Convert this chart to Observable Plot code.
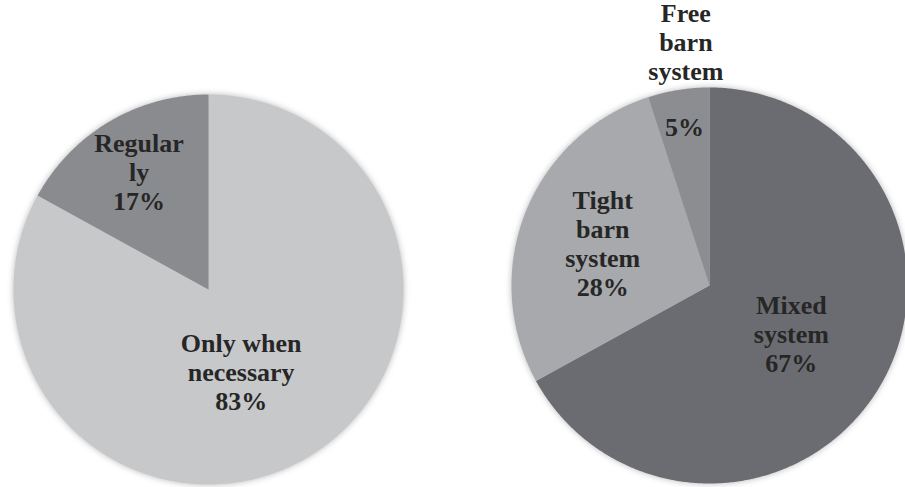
<!DOCTYPE html>
<html>
<head>
<meta charset="utf-8">
<script src="https://cdn.jsdelivr.net/npm/d3@7"></script>
<script src="https://cdn.jsdelivr.net/npm/@observablehq/plot@0.6"></script>
<style>
  html, body { margin: 0; padding: 0; background: #fff; }
  #wrap { position: relative; width: 905px; height: 487px; overflow: hidden; }
  #left, #right { position: absolute; top: 0; }
  #left { left: 0; }
  #right { left: 450px; }
</style>
</head>
<body>
<div id="wrap"><div id="left"></div><div id="right"></div></div>
<script>
// ---- data ----
const leftCategories = ["Only when necessary", "Regularly"];
const leftValues = [83, 17];
const leftLabels = ["Only when\nnecessary", "Regular\nly"];
const leftColors = ["#c7c8ca", "#8a8b8f"];

const rightCategories = ["Mixed system", "Tight barn system", "Free barn system"];
const rightValues = [67, 28, 5];
const rightLabels = ["Mixed\nsystem", "Tight\nbarn\nsystem", "Free\nbarn\nsystem"];
const rightColors = ["#6b6c71", "#a7a9ac", "#8c8d91"];

// ---- layout (label placement along each slice's mid-angle) ----
const leftLayout = { width: 450, xRange: [13, 403], yRange: [484, 94],
  labelRadius: [0.47, 0.70], nameOutside: [false, false], nudge: [[-14, 3], [0, 0]] };
const rightLayout = { width: 455, xRange: [61, 457], yRange: [483, 87],
  labelRadius: [0.48, 0.58, 0.81], nameOutside: [false, false, true], nameRadius: 1.247,
  nudge: [[0, 0], [0, 0], [0, 0]], nameNudge: [15, 0] };

function slicePolygons(categories, values) {
  const arcs = d3.pie().sort(null)(values);
  const pts = [];
  arcs.forEach((a, i) => {
    const n = Math.max(2, Math.ceil((a.endAngle - a.startAngle) / (Math.PI / 360)));
    pts.push({cat: categories[i], x: 0, y: 0});
    for (let k = 0; k <= n; k++) {
      const t = a.startAngle + (a.endAngle - a.startAngle) * k / n;
      pts.push({cat: categories[i], x: Math.sin(t), y: Math.cos(t)});
    }
  });
  return {arcs, pts};
}

function pieChart(categories, values, labels, colors, L) {
  const {arcs, pts} = slicePolygons(categories, values);
  const inside = [], outside = [];
  arcs.forEach((a, i) => {
    const mid = (a.startAngle + a.endAngle) / 2;
    const pct = Math.round(values[i] / d3.sum(values) * 100) + "%";
    const r = L.labelRadius[i];
    if (L.nameOutside[i]) {
      inside.push({x: Math.sin(mid) * r, y: Math.cos(mid) * r, text: pct, nudge: L.nudge[i]});
      outside.push({x: Math.sin(mid) * L.nameRadius, y: Math.cos(mid) * L.nameRadius, text: labels[i]});
    } else {
      inside.push({x: Math.sin(mid) * r, y: Math.cos(mid) * r, text: labels[i] + "\n" + pct, nudge: L.nudge[i]});
    }
  });
  const textStyle = {fontSize: 26, fontWeight: "bold", fontFamily: "Liberation Serif, Times New Roman, serif",
    lineHeight: 1.12, fill: "#262626", lineAnchor: "middle", textAnchor: "middle"};
  const marks = [
    Plot.line(pts, {x: "x", y: "y", z: "cat", fill: "cat", stroke: "none", curve: "linear-closed"})
  ];
  inside.forEach(d => marks.push(Plot.text([d], {x: "x", y: "y", text: "text", dx: d.nudge[0], dy: d.nudge[1], ...textStyle})));
  if (outside.length) marks.push(Plot.text(outside, {x: "x", y: "y", text: "text", dx: L.nameNudge[0], dy: L.nameNudge[1], ...textStyle}));
  const svg = Plot.plot({
    width: L.width, height: 487,
    margin: 0,
    style: {background: "transparent", overflow: "hidden"},
    x: {domain: [-1, 1], range: L.xRange, axis: null},
    y: {domain: [-1, 1], range: L.yRange, axis: null},
    color: {domain: categories, range: colors},
    marks
  });
  const g = svg.querySelector('g[aria-label="line"]');
  if (g) g.style.filter = "drop-shadow(0 0 3px rgba(0,0,0,0.28))";
  return svg;
}

document.getElementById("left").append(pieChart(leftCategories, leftValues, leftLabels, leftColors, leftLayout));
document.getElementById("right").append(pieChart(rightCategories, rightValues, rightLabels, rightColors, rightLayout));
</script>
</body>
</html>
